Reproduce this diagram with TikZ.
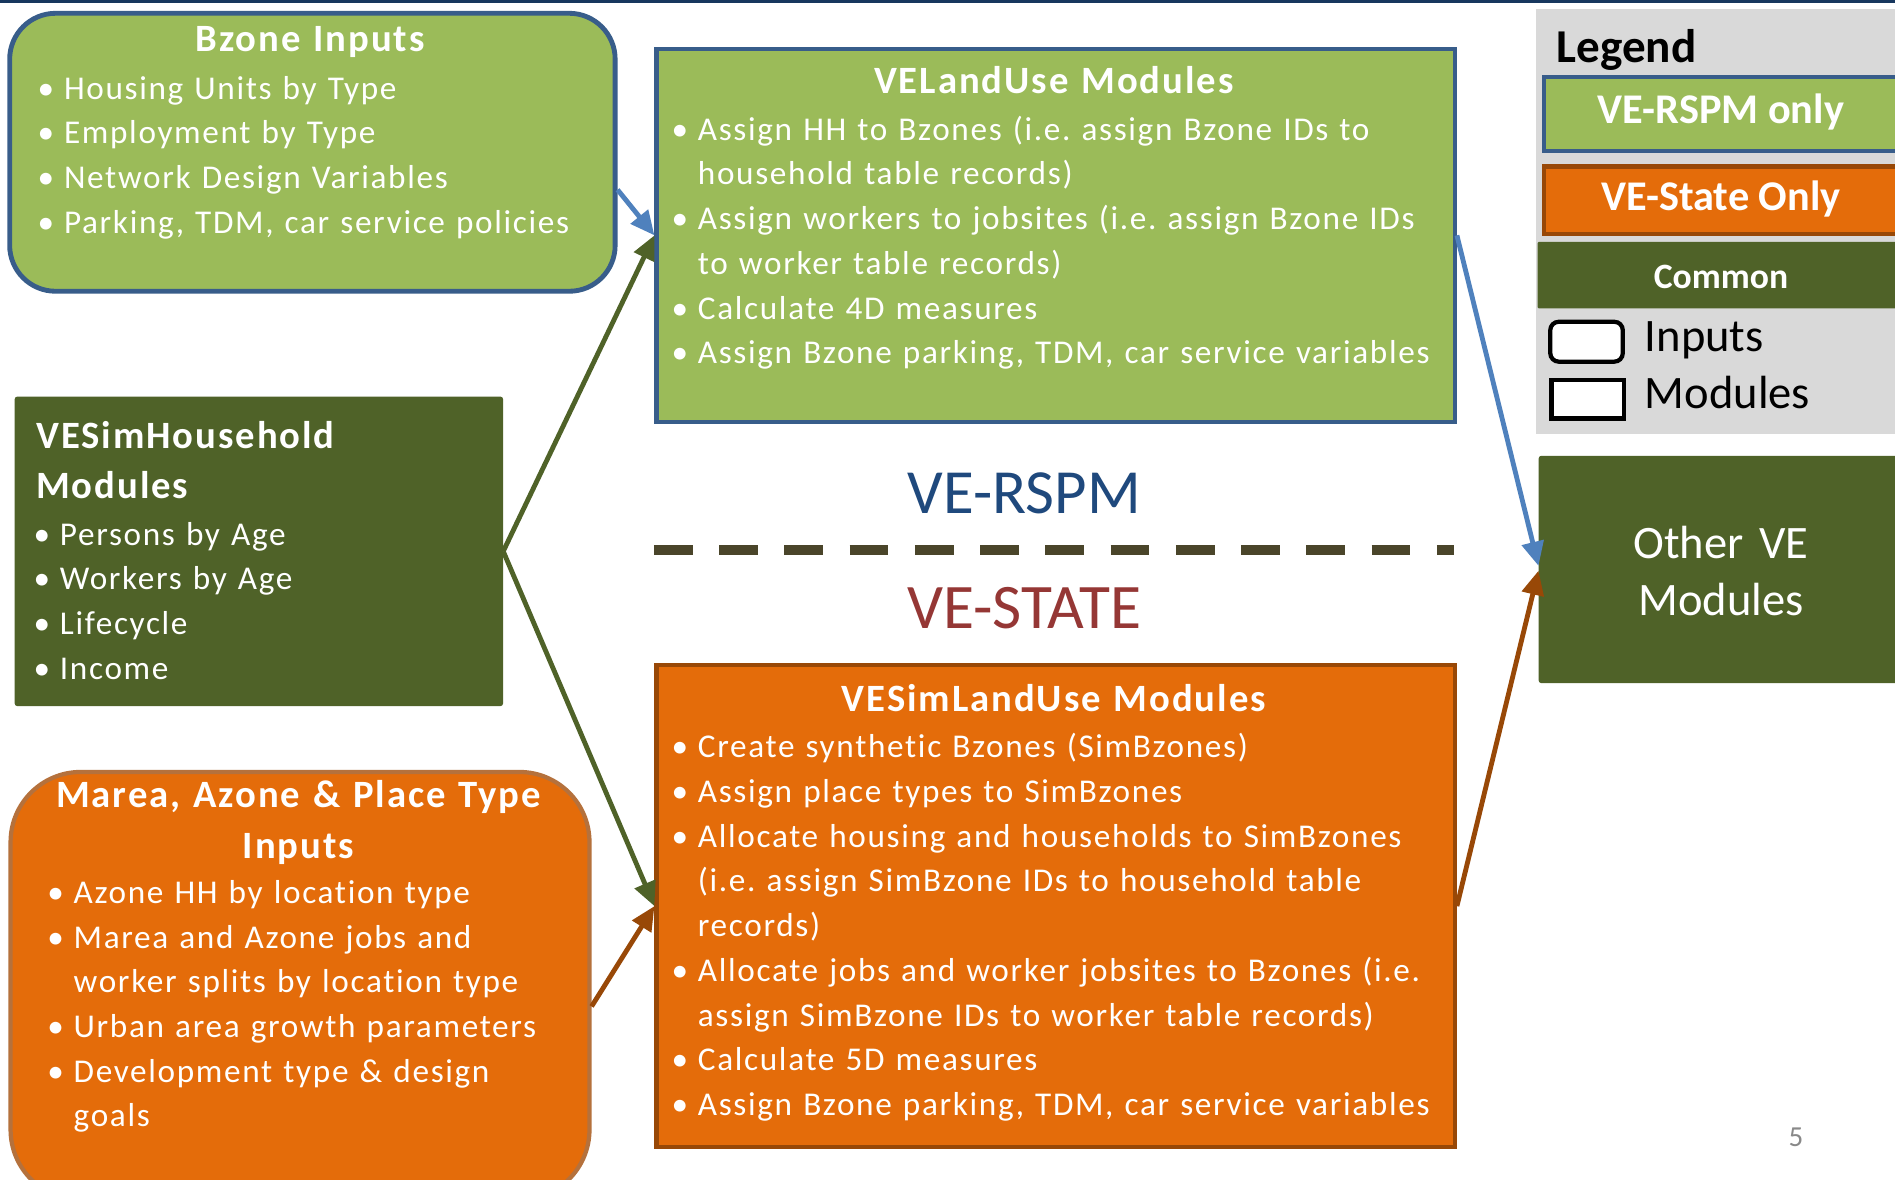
\documentclass[tikz,border=0pt]{standalone}
\usepackage{fontspec}
\setmainfont{Carlito}
\newfontfamily\boxfont[LetterSpace=5,Ligatures=CommonOff]{Carlito}
\usetikzlibrary{arrows.meta}
\frenchspacing

\definecolor{lgreen}{HTML}{9BBB59}
\definecolor{dgreen}{HTML}{4F6228}
\definecolor{orng}{HTML}{E46C0A}
\definecolor{bluebd}{HTML}{385D8A}
\definecolor{brownbd}{HTML}{984807}
\definecolor{lbrownbd}{HTML}{B5713C}
\definecolor{bluearr}{HTML}{4F81BD}
\definecolor{navytxt}{HTML}{1F497D}
\definecolor{redtxt}{HTML}{953735}
\definecolor{dashc}{HTML}{4A452A}
\definecolor{lgray}{HTML}{D9D9D9}
\definecolor{topline}{HTML}{17375E}
\definecolor{pgnum}{HTML}{898989}

% text sizes
\newcommand\bodyfs{\boxfont\fontsize{27.5pt}{37pt}\selectfont\parindent=0pt\frenchspacing}
\newcommand\hdrfs{\boxfont\bfseries\fontsize{32pt}{42pt}\selectfont\frenchspacing}
% one bullet paragraph with hanging indent (\newline keeps the paragraph open)
\newcommand\bitem[1]{\hangindent=22pt\hangafter=1
  \makebox[22pt][l]{\makebox[14pt][c]{\textbullet}}#1\par}

\begin{document}
\begin{tikzpicture}[x=1pt,y=-1pt,
  box/.style={anchor=north west,inner sep=0pt,rectangle},
  bodytxt/.style={anchor=base west,inner sep=0pt,outer sep=0pt,text width=700pt,
    align=left,text=white,font=\bodyfs},
  hdrtxt/.style={anchor=base,inner sep=0pt,outer sep=0pt,text width=#1,
    align=center,text=white,font=\hdrfs},
  arr/.style={line width=4pt,-{Triangle[length=20pt,width=18pt]}},
  plain/.style={inner sep=0pt,outer sep=0pt}]

\useasboundingbox (0,0) rectangle (1568,976);
\clip (0,0) rectangle (1568,976);
\fill[white] (0,0) rectangle (1568,976);
\fill[topline] (0,0) rectangle (1568,2.5);

% ---- boxes ----
\node[box,fill=lgreen,draw=bluebd,line width=4pt,rounded corners=38pt,
  minimum width=501pt,minimum height=230pt] (bz) at (6,9) {};
\node[box,fill=lgreen,draw=bluebd,line width=3.5pt,
  minimum width=660.5pt,minimum height=309pt] (velu) at (541.5,38.5) {};
\node[box,fill=dgreen,rounded corners=2pt,
  minimum width=404pt,minimum height=256pt] (hh) at (12,328) {};
\node[box,fill=orng,draw=lbrownbd,line width=3.5pt,rounded corners=58pt,
  minimum width=479pt,minimum height=354pt] (ma) at (7,637) {};
\node[box,fill=orng,draw=brownbd,line width=3.5pt,
  minimum width=660.5pt,minimum height=399pt] (vslu) at (541.5,548.5) {};
\node[box,fill=dgreen,rounded corners=2pt,
  minimum width=301pt,minimum height=188pt] (ov) at (1273,377) {};

% ---- legend ----
\node[box,fill=lgray,minimum width=310pt,minimum height=352pt] (lg) at (1271,7) {};
\node[box,fill=lgreen,draw=bluebd,line width=3.5pt,
  minimum width=300pt,minimum height=61pt] (lr) at (1275.5,62) {};
\node[box,fill=orng,draw=brownbd,line width=3.5pt,
  minimum width=300pt,minimum height=56pt] (ls) at (1275.5,136) {};
\node[box,fill=dgreen,rounded corners=1pt,
  minimum width=302pt,minimum height=55pt] (lc) at (1272,200) {};
\node[box,fill=white,draw=black,line width=3.5pt,rounded corners=7pt,
  minimum width=60pt,minimum height=33pt] (li) at (1281,264.5) {};
\node[box,fill=white,draw=black,line width=3.5pt,
  minimum width=60pt,minimum height=32pt] (lm) at (1282,312.5) {};

\node[plain,anchor=base west,font=\bfseries\fontsize{39pt}{46pt}\selectfont] (lg-t) at (1288,52) {Legend};
\node[plain,anchor=base,text=white,font=\bfseries\fontsize{35pt}{42pt}\selectfont] (lr-t) at (1424,102) {VE-RSPM only};
\node[plain,anchor=base,text=white,font=\bfseries\fontsize{35pt}{42pt}\selectfont] (ls-t) at (1424,174.5) {VE-State Only};
\node[plain,anchor=base,text=white,font=\bfseries\fontsize{29.5pt}{35pt}\selectfont] (lc-t) at (1424,238.5) {Common};
\node[plain,anchor=base west,font=\fontsize{38.5pt}{47pt}\selectfont] (li-t) at (1361,291) {Inputs};
\node[plain,anchor=base west,font=\fontsize{38.5pt}{47pt}\selectfont] (lm-t) at (1361,338) {Modules};

% ---- divider and scenario labels ----
\draw[dashc,line width=8.3pt,dash pattern=on 32pt off 22pt] (541,455) -- (1203,455);
\node[plain,anchor=base,text=navytxt,font=\fontsize{52pt}{60pt}\selectfont] (rspm) at (847.5,424.5) {VE-RSPM};
\node[plain,anchor=base,text=redtxt,font=\fontsize{52.5pt}{60pt}\selectfont] (state) at (847.5,520) {VE-STATE};

% ---- connectors ----
\draw[arr,bluearr] ([yshift=-31pt]bz.east) -- (velu.west);
\draw[arr,dgreen] (hh.east) -- (velu.west);
\draw[arr,dgreen] (hh.east) -- (vslu.west);
\draw[arr,brownbd] ([yshift=-17pt]ma.east) -- (vslu.west);
\draw[arr,bluearr] (velu.east) -- ([yshift=3pt]ov.west);
\draw[arr,brownbd] (vslu.east) -- ([yshift=-1pt]ov.west);

% ---- box texts ----
\node[hdrtxt=480pt] (bz-h) at (256.5,43) {Bzone Inputs};
\node[bodytxt] (bz-b) at (31,82) {%
  \bitem{Housing Units by Type}%
  \bitem{Employment by Type}%
  \bitem{Network Design Variables}%
  \bitem{Parking, TDM, car service policies}};

\node[hdrtxt=640pt] (velu-h) at (872,77.5) {VELandUse Modules};
\node[bodytxt] (velu-b) at (555.5,116) {%
  \bitem{Assign HH to Bzones (i.e. assign Bzone IDs to\newline household table records)}%
  \bitem{Assign workers to jobsites (i.e. assign Bzone IDs\newline to worker table records)}%
  \bitem{Calculate 4D measures}%
  \bitem{Assign Bzone parking, TDM, car service variables}};

\node[plain,anchor=base west,text width=380pt,align=left,text=white,
  font=\boxfont\bfseries\fontsize{32pt}{41.5pt}\selectfont] (hh-h) at (30,371) {VESimHousehold\\Modules};
\node[bodytxt] (hh-b) at (27.6,451) {%
  \bitem{Persons by Age}%
  \bitem{Workers by Age}%
  \bitem{Lifecycle}%
  \bitem{Income}};

\node[hdrtxt=470pt] (ma-h) at (247,668) {Marea, Azone \& Place Type\\Inputs};
\node[bodytxt] (ma-b) at (39,747.5) {%
  \bitem{Azone HH by location type}%
  \bitem{Marea and Azone jobs and\newline worker splits by location type}%
  \bitem{Urban area growth parameters}%
  \bitem{Development type \& design\newline goals}};

\node[hdrtxt=640pt] (vslu-h) at (872,588.5) {VESimLandUse Modules};
\node[bodytxt] (vslu-b) at (555.5,627) {%
  \bitem{Create synthetic Bzones (SimBzones)}%
  \bitem{Assign place types to SimBzones}%
  \bitem{Allocate housing and households to SimBzones\newline (i.e. assign SimBzone IDs to household table\newline records)}%
  \bitem{Allocate jobs and worker jobsites to Bzones (i.e.\newline assign SimBzone IDs to worker table records)}%
  \bitem{Calculate 5D measures}%
  \bitem{Assign Bzone parking, TDM, car service variables}};

\node[plain,anchor=base,text width=300pt,align=center,text=white,
  font=\fontsize{38.5pt}{47pt}\selectfont] (ov-t) at (1424,462) {Other VE\\Modules};

\node[plain,anchor=base,text=pgnum,font=\fontsize{24pt}{28pt}\selectfont] (pg) at (1486,949) {5};
\end{tikzpicture}
\end{document}
